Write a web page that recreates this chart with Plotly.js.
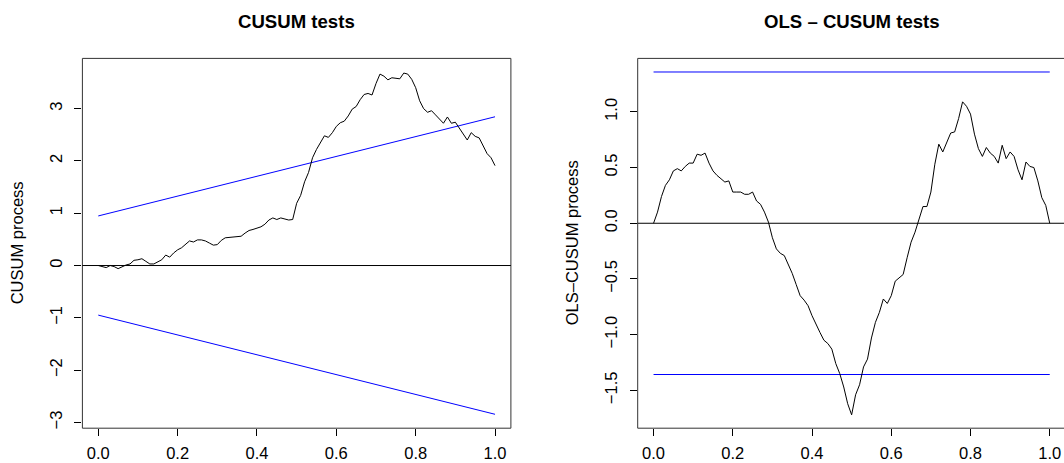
<!DOCTYPE html>
<html>
<head>
<meta charset="utf-8">
<script src="https://cdn.plot.ly/plotly-3.0.1.min.js"></script>
<style>html,body{margin:0;padding:0;background:#fff}#chart{width:1064px;height:463px}</style>
</head>
<body>
<div id="chart"></div>
<script>
// Recursive CUSUM process (left panel), sampled on t = 0, 0.01, ..., 1
const cusumValues = [
  0.00, -0.02, -0.04, 0.00, -0.02, -0.06, -0.02, 0.01, 0.03, 0.10,
  0.11, 0.13, 0.08, 0.03, 0.03, 0.07, 0.11, 0.20, 0.16, 0.24,
  0.30, 0.34, 0.40, 0.47, 0.45, 0.49, 0.49, 0.47, 0.43, 0.39,
  0.40, 0.48, 0.53, 0.54, 0.55, 0.55, 0.56, 0.62, 0.67, 0.69,
  0.71, 0.74, 0.79, 0.87, 0.91, 0.88, 0.91, 0.89, 0.87, 0.88,
  1.19, 1.34, 1.60, 1.78, 2.06, 2.22, 2.35, 2.48, 2.45, 2.54,
  2.66, 2.73, 2.76, 2.86, 2.99, 3.04, 3.17, 3.27, 3.29, 3.26,
  3.48, 3.66, 3.62, 3.55, 3.59, 3.58, 3.57, 3.68, 3.66, 3.56,
  3.40, 3.15, 3.00, 2.93, 2.96, 2.88, 2.80, 2.72, 2.84, 2.72,
  2.74, 2.63, 2.50, 2.40, 2.54, 2.47, 2.44, 2.30, 2.14, 2.06,
  1.91
];
// OLS-CUSUM process (right panel), sampled on t = 0, 0.01, ..., 1
const olsCusumValues = [
  0.00, 0.10, 0.24, 0.34, 0.39, 0.47, 0.49, 0.47, 0.51, 0.54,
  0.54, 0.62, 0.61, 0.63, 0.54, 0.47, 0.43, 0.40, 0.37, 0.38,
  0.28, 0.28, 0.28, 0.26, 0.26, 0.28, 0.20, 0.17, 0.10, 0.01,
  -0.13, -0.23, -0.27, -0.29, -0.37, -0.45, -0.55, -0.65, -0.69, -0.74,
  -0.83, -0.91, -0.98, -1.05, -1.08, -1.13, -1.26, -1.35, -1.47, -1.62,
  -1.72, -1.54, -1.45, -1.29, -1.22, -1.03, -0.89, -0.80, -0.68, -0.72,
  -0.65, -0.52, -0.49, -0.46, -0.31, -0.17, -0.08, 0.04, 0.15, 0.15,
  0.28, 0.53, 0.71, 0.64, 0.73, 0.81, 0.82, 0.94, 1.09, 1.05,
  0.98, 0.80, 0.67, 0.60, 0.68, 0.63, 0.60, 0.54, 0.70, 0.58,
  0.64, 0.60, 0.48, 0.39, 0.55, 0.51, 0.50, 0.38, 0.23, 0.16,
  0.00
];
// Boundaries
const cusumBoundStart = [0.948, -0.948];   // at t = 0
const cusumBoundEnd = [2.844, -2.844];     // at t = 1
const olsBound = [1.358, -1.358];
const boundT = [0, 1];

const titles = ["CUSUM tests", "OLS \u2013 CUSUM tests"];
const yTitles = ["CUSUM process", "OLS\u2013CUSUM process"];
const xTicks = [0, 0.2, 0.4, 0.6, 0.8, 1.0];
const xTickText = ["0.0", "0.2", "0.4", "0.6", "0.8", "1.0"];
const yTicksLeft = [-3, -2, -1, 0, 1, 2, 3];
const yTickTextLeft = ["\u22123", "\u22122", "\u22121", "0", "1", "2", "3"];
const yTicksRight = [-1.5, -1.0, -0.5, 0.0, 0.5, 1.0];
const yTickTextRight = ["\u22121.5", "\u22121.0", "\u22120.5", "0.0", "0.5", "1.0"];

const t1 = cusumValues.map((_, i) => i / (cusumValues.length - 1));
const t2 = olsCusumValues.map((_, i) => i / (olsCusumValues.length - 1));

const blue = "#0000FF";
const traces = [
  {x: boundT, y: [cusumBoundStart[0], cusumBoundEnd[0]], xaxis: "x", yaxis: "y", mode: "lines", line: {color: blue, width: 1}},
  {x: boundT, y: [cusumBoundStart[1], cusumBoundEnd[1]], xaxis: "x", yaxis: "y", mode: "lines", line: {color: blue, width: 1}},
  {x: t1, y: cusumValues, xaxis: "x", yaxis: "y", mode: "lines", line: {color: "#000", width: 1}},
  {x: boundT, y: [olsBound[0], olsBound[0]], xaxis: "x2", yaxis: "y2", mode: "lines", line: {color: blue, width: 1}},
  {x: boundT, y: [olsBound[1], olsBound[1]], xaxis: "x2", yaxis: "y2", mode: "lines", line: {color: blue, width: 1}},
  {x: t2, y: olsCusumValues, xaxis: "x2", yaxis: "y2", mode: "lines", line: {color: "#000", width: 1}}
];

const W = 1064, H = 463;
const font = "Liberation Sans, Arial, Helvetica, sans-serif";
const yDom = [(H - 428.2) / H, (H - 58.4) / H];
const xDom1 = [82.4 / W, 510.9 / W];
const xDom2 = [637.7 / W, 1];
const tickSize = 16.5;

const axBase = {
  showgrid: false, zeroline: false, showline: false,
  ticks: "outside", ticklen: 7, tickwidth: 1, tickcolor: "#000",
  tickfont: {family: font, size: tickSize, color: "#000"}
};

const layout = {
  width: W, height: H,
  margin: {l: 0, r: 0, t: 0, b: 0},
  paper_bgcolor: "#fff", plot_bgcolor: "#fff",
  showlegend: false,
  font: {family: font, color: "#000"},
  xaxis: Object.assign({}, axBase, {domain: xDom1, range: [-0.04, 1.04], tickvals: xTicks, ticktext: xTickText, anchor: "y", ticklabelstandoff: 3}),
  yaxis: Object.assign({}, axBase, {domain: yDom, range: [-3.11, 3.96], tickvals: yTicksLeft, ticktext: yTickTextLeft, tickangle: -90, anchor: "x", ticklabelstandoff: 6}),
  xaxis2: Object.assign({}, axBase, {domain: xDom2, range: [-0.04, 1.036], tickvals: xTicks, ticktext: xTickText, anchor: "y2", ticklabelstandoff: 3}),
  yaxis2: Object.assign({}, axBase, {domain: yDom, range: [-1.84, 1.48], tickvals: yTicksRight, ticktext: yTickTextRight, tickangle: -90, anchor: "x2", ticklabelstandoff: 6}),
  shapes: [
    {type: "rect", xref: "x domain", yref: "y domain", x0: 0, x1: 1, y0: 0, y1: 1, line: {color: "#333", width: 1}},
    {type: "line", xref: "x domain", yref: "y", x0: 0, x1: 1, y0: 0, y1: 0, line: {color: "#000", width: 1}},
    {type: "line", xref: "x2 domain", yref: "y2 domain", x0: 0, x1: 0, y0: 0, y1: 1, line: {color: "#333", width: 1}},
    {type: "line", xref: "x2 domain", yref: "y2 domain", x0: 0, x1: 1, y0: 1, y1: 1, line: {color: "#333", width: 1}},
    {type: "line", xref: "x2 domain", yref: "y2 domain", x0: 0, x1: 1, y0: 0, y1: 0, line: {color: "#333", width: 1}},
    {type: "line", xref: "x2 domain", yref: "y2", x0: 0, x1: 1, y0: 0, y1: 0, line: {color: "#000", width: 1}}
  ],
  annotations: [
    {text: "<b>" + titles[0] + "</b>", xref: "paper", yref: "paper", x: (xDom1[0] + xDom1[1]) / 2, y: 1 - 21 / H, xanchor: "center", yanchor: "middle", showarrow: false, font: {family: font, size: 18.6, color: "#000"}},
    {text: "<b>" + titles[1] + "</b>", xref: "paper", yref: "paper", x: (637.7 + 1065.6) / 2 / W, y: 1 - 21 / H, xanchor: "center", yanchor: "middle", showarrow: false, font: {family: font, size: 18.6, color: "#000"}},
    {text: yTitles[0], xref: "paper", yref: "paper", x: 17 / W, y: (yDom[0] + yDom[1]) / 2, xanchor: "center", yanchor: "middle", textangle: -90, showarrow: false, font: {family: font, size: 16.5, color: "#000"}},
    {text: yTitles[1], xref: "paper", yref: "paper", x: 572 / W, y: (yDom[0] + yDom[1]) / 2, xanchor: "center", yanchor: "middle", textangle: -90, showarrow: false, font: {family: font, size: 16.5, color: "#000"}}
  ]
};

Plotly.newPlot("chart", traces, layout, {staticPlot: true, displayModeBar: false});
</script>
</body>
</html>
